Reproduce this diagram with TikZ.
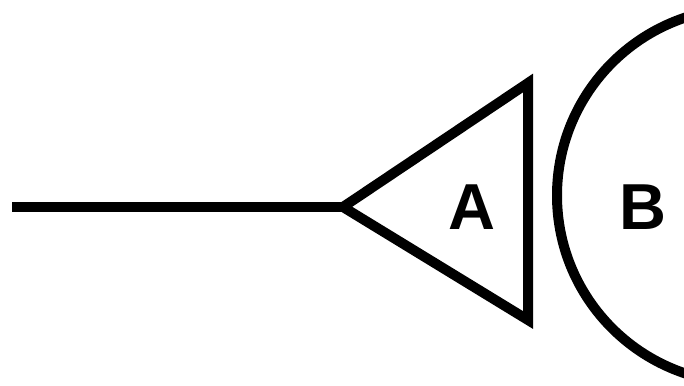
\documentclass[tikz,border=0pt]{standalone}
\usepackage{fontspec}
\setmainfont{Liberation Sans}
\begin{document}
\begin{tikzpicture}[x=1pt,y=-1pt,
  stroke/.style={line width=10pt,black,line join=miter},
  letter/.style={font=\fontsize{65}{65}\selectfont\bfseries,inner sep=0pt}]
\useasboundingbox (0,0) rectangle (684,385);
\coordinate (start) at (12,207);
\coordinate (apex) at (343,207);
\coordinate (tr) at (528,83);
\coordinate (br) at (528,320);
\draw[stroke] (start) -- (apex);
\draw[stroke] (apex) -- (tr) -- (br) -- cycle;
\node[letter] (A) at (471.5,207.5) {A};
\node[letter] (B) at (642.5,207.5) {B};
\begin{scope}
\clip (0,0) rectangle (684,385);
\draw[stroke] (744.5,195.5) circle[radius=187.5];
\end{scope}
\end{tikzpicture}
\end{document}
